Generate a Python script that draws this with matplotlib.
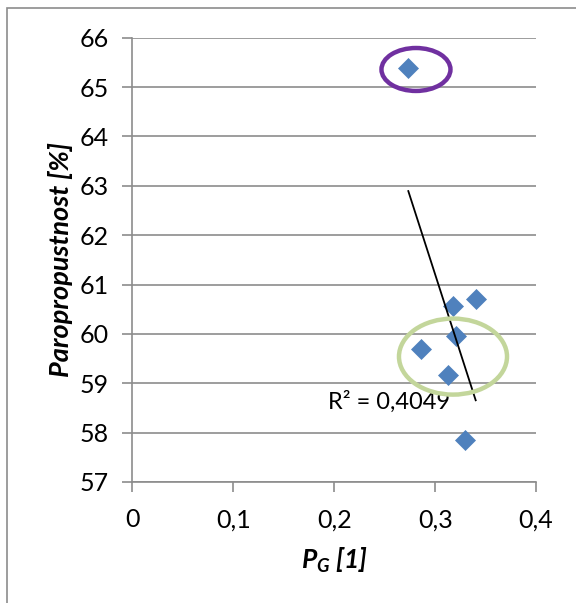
import numpy as np
import matplotlib.pyplot as plt
from matplotlib.patches import Ellipse, Rectangle

# data
pg = [0.2734, 0.3174, 0.3402, 0.3207, 0.2860, 0.3128, 0.3300]
paro = [65.38, 60.57, 60.70, 59.95, 59.70, 59.17, 57.86]
r2_label = 'R² = 0,4049'
x_ticks = [0, 0.1, 0.2, 0.3, 0.4]
x_tick_labels = ['0', '0,1', '0,2', '0,3', '0,4']
y_ticks = [57, 58, 59, 60, 61, 62, 63, 64, 65, 66]

plt.rcParams['font.family'] = ['Lato', 'DejaVu Sans']
plt.rcParams['mathtext.fontset'] = 'custom'
plt.rcParams['mathtext.bfit'] = 'Lato:italic:bold'

fig = plt.figure(figsize=(5.76, 6.03), dpi=100)
ax = fig.add_axes([0.230, 0.2007, 0.7006, 0.7368])

# outer chart frame (only left/top edges visible in the crop)
fig.patches.append(Rectangle((7 / 576, -0.1), 1.2, 1 - 8 / 603 + 0.1,
                             transform=fig.transFigure, fill=False,
                             edgecolor='#8c8c8c', linewidth=1.2))

ax.set_xlim(0, 0.4)
ax.set_ylim(57, 66)
ax.set_xticks(x_ticks)
ax.set_xticklabels(x_tick_labels)
ax.set_yticks(y_ticks)
ax.yaxis.grid(True, color='#8c8c8c', linewidth=1.2)
ax.set_axisbelow(True)
for s in ['top', 'right']:
    ax.spines[s].set_visible(False)
for s in ['left', 'bottom']:
    ax.spines[s].set_color('#8c8c8c')
    ax.spines[s].set_linewidth(1.2)
ax.tick_params(axis='both', direction='out', length=7, width=1.2,
               color='#8c8c8c', labelsize=18)
ax.tick_params(axis='y', pad=10)
ax.tick_params(axis='x', pad=12)

ax.plot(pg, paro, linestyle='none', marker='D', markersize=10,
        color='#4f81bd', markeredgecolor='#4f81bd', markeredgewidth=0.5, zorder=3)

# linear trendline over data range
k, q = np.polyfit(pg, paro, 1)
xs = np.array([min(pg), max(pg)])
ax.plot(xs, k * xs + q, color='black', linewidth=1.3, zorder=4)
ax.text(0.254, 58.63, r2_label, fontsize=17, ha='center', va='center', zorder=5)

ax.add_patch(Ellipse((0.2810, 65.356), 0.0684, 0.87, fill=False,
                     edgecolor='#7030a0', linewidth=3.2, zorder=5))
ax.add_patch(Ellipse((0.3177, 59.54), 0.1071, 1.54, fill=False,
                     edgecolor='#c3d69b', linewidth=3.2, zorder=5))

ax.set_xlabel(r'$\mathbfit{P}_{\mathbfit{G}}$ [1]', fontsize=19, fontweight='bold',
              fontstyle='italic', labelpad=10)
ax.set_ylabel('Paropropustnost [%]', fontsize=19.5, fontweight='bold',
              fontstyle='italic', labelpad=5)

plt.savefig('out.png', dpi=100)
